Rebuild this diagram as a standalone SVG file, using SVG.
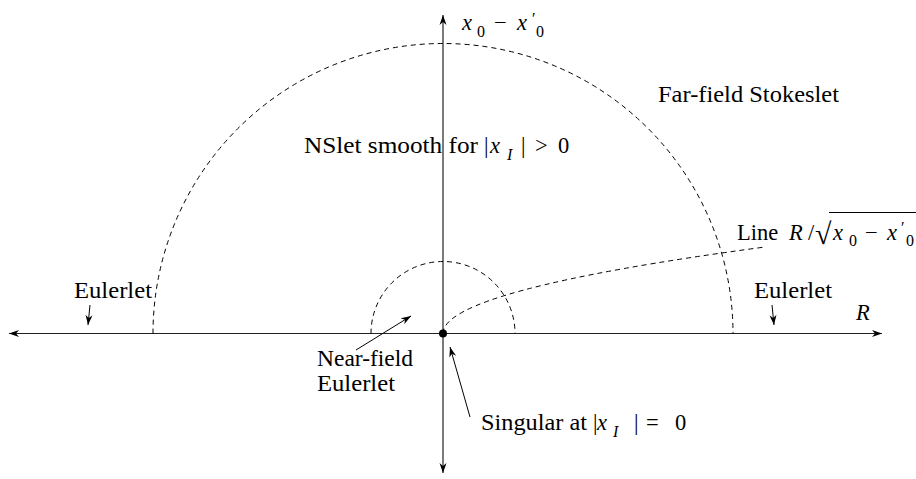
<svg xmlns="http://www.w3.org/2000/svg" width="916" height="479" viewBox="0 0 916 479" font-family="Liberation Serif, DejaVu Serif, Noto Serif, serif">
<style>
text{font-size:22.5px;fill:#000}
.m{font-style:italic}
.s{font-size:16px}
.axis{stroke:#222;stroke-width:1.2;fill:none}
.dash{stroke:#000;stroke-width:1;fill:none;stroke-dasharray:5 4}
.ptr{stroke:#000;stroke-width:1;fill:none}
</style>
<defs>
<marker id="ah" markerUnits="userSpaceOnUse" markerWidth="14" markerHeight="10" viewBox="-11 -5 12 10" refX="0" refY="0" orient="auto">
<path d="M0,0 L-10,-3.5 L-7,0 L-10,3.5 Z" fill="#000"/>
</marker>
</defs>
<rect width="916" height="479" fill="#fff"/>
<g id="axes">
<line class="axis" x1="443" y1="333.5" x2="882" y2="333.5" marker-end="url(#ah)"/>
<line class="axis" x1="443" y1="333.5" x2="9" y2="333.5" marker-end="url(#ah)"/>
<line class="axis" x1="443" y1="333.5" x2="443" y2="15" marker-end="url(#ah)"/>
<line class="axis" x1="443" y1="333.5" x2="443" y2="473" marker-end="url(#ah)"/>
</g>
<g id="curves">
<path id="far-field" class="dash" d="M153,333.5 A290,290 0 0 1 733,333.5"/>
<path id="near-field" class="dash" d="M371,333.5 A72,72 0 0 1 515,333.5"/>
<path id="line-curve" class="dash" d="M443,333.5 Q443,290 765,247"/>
<circle id="origin" cx="443" cy="333.5" r="4" fill="#000"/>
</g>
<g id="connectors">
<line class="ptr" x1="90" y1="305" x2="88" y2="325" marker-end="url(#ah)"/>
<line class="ptr" x1="772" y1="305" x2="774" y2="325" marker-end="url(#ah)"/>
<line class="ptr" x1="356" y1="350" x2="411" y2="316" marker-end="url(#ah)"/>
<line class="ptr" x1="470" y1="417" x2="450" y2="347" marker-end="url(#ah)"/>
</g>
<g id="label-axis-x0">
<text><tspan class="m" x="462" y="30">x</tspan><tspan class="s" x="477" y="37">0</tspan><tspan x="494" y="30">−</tspan><tspan class="m" x="517" y="30">x</tspan><tspan class="s" x="532" y="24">′</tspan><tspan class="s" x="536" y="37">0</tspan></text>
</g>
<g id="label-R"><text class="m" x="856" y="320">R</text></g>
<g id="label-far-field"><text x="658" y="102" textLength="181" lengthAdjust="spacingAndGlyphs">Far-field Stokeslet</text></g>
<g id="label-nslet">
<text><tspan x="304" y="153" textLength="174" lengthAdjust="spacingAndGlyphs">NSlet smooth for</tspan><tspan x="484" y="153">|</tspan><tspan class="m" x="490" y="153">x</tspan><tspan class="m s" x="507" y="160">I</tspan><tspan x="521" y="153">|</tspan><tspan x="535" y="153">&gt;</tspan><tspan x="558" y="153">0</tspan></text>
</g>
<g id="label-line">
<line x1="829" y1="212.5" x2="916" y2="212.5" stroke="#000" stroke-width="1"/>
<text><tspan x="737" y="240">Line</tspan><tspan class="m" x="789" y="240">R</tspan><tspan x="808" y="240">/</tspan><tspan x="815" y="244" style="font-size:30px">√</tspan><tspan class="m" x="833" y="240">x</tspan><tspan class="s" x="849" y="246">0</tspan><tspan x="865" y="240">−</tspan><tspan class="m" x="887" y="240">x</tspan><tspan class="s" x="901" y="233">′</tspan><tspan class="s" x="906" y="246">0</tspan></text>
</g>
<g id="label-eulerlet-left"><text x="74" y="298" textLength="78" lengthAdjust="spacingAndGlyphs">Eulerlet</text></g>
<g id="label-eulerlet-right"><text x="754" y="298" textLength="78" lengthAdjust="spacingAndGlyphs">Eulerlet</text></g>
<g id="label-near-field">
<text><tspan x="317" y="366" textLength="96" lengthAdjust="spacingAndGlyphs">Near-field</tspan><tspan x="317" y="391" textLength="78" lengthAdjust="spacingAndGlyphs">Eulerlet</tspan></text>
</g>
<g id="label-singular">
<text><tspan x="481" y="430" textLength="106" lengthAdjust="spacingAndGlyphs">Singular at</tspan><tspan x="593" y="430">|</tspan><tspan class="m" x="597" y="430">x</tspan><tspan class="m s" x="613" y="437">I</tspan><tspan x="634" y="430">|</tspan><tspan x="646" y="430">=</tspan><tspan x="675" y="430">0</tspan></text>
</g>
</svg>
